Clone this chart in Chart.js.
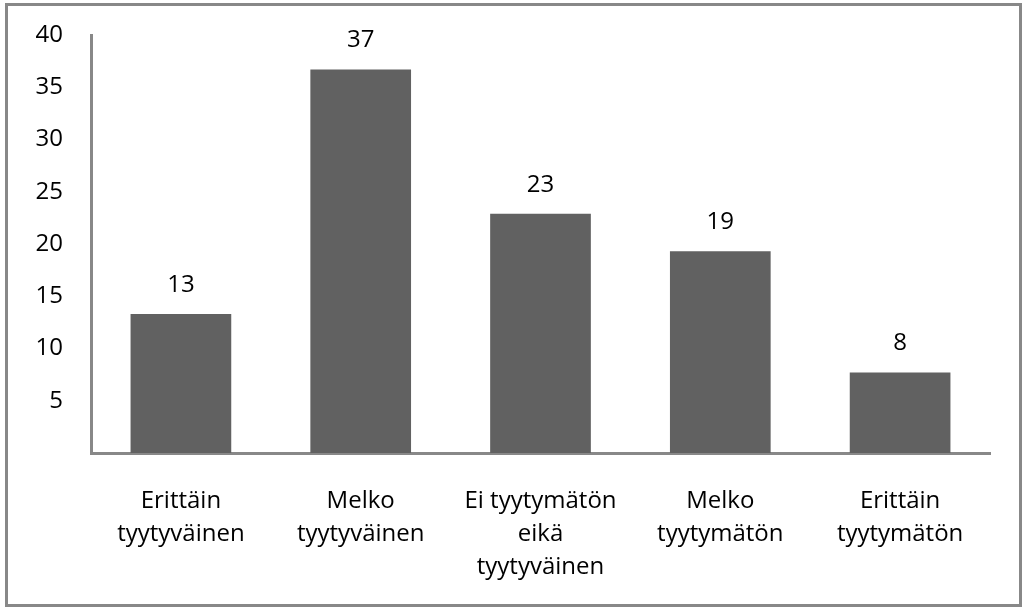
<!DOCTYPE html>
<html>
<head>
<meta charset="utf-8">
<script src="https://cdn.jsdelivr.net/npm/chart.js@4"></script>
<style>
  html, body { margin:0; padding:0; background:#fff; }
  #wrap { position:relative; width:1026px; height:612px; }
  #frame { position:absolute; left:5px; top:3px; width:1017px; height:604px; border:3px solid #888; box-sizing:border-box; }
  canvas { position:absolute; left:0; top:0; }
</style>
</head>
<body>
<div id="wrap">
  <div id="frame"></div>
  <canvas id="chart" width="1026" height="612"></canvas>
</div>
<script>
// categories (multi-line as shown under the axis)
const categories = [
    ["Erittäin", "tyytyväinen"],
    ["Melko", "tyytyväinen"],
    ["Ei tyytymätön", "eikä", "tyytyväinen"],
    ["Melko", "tyytymätön"],
    ["Erittäin", "tyytymätön"]
];
// values, labels shown rounded
const values = [13.3, 36.7, 22.9, 19.3, 7.7];
const yTicks = [5, 10, 15, 20, 25, 30, 35, 40];

const FONT = "'Open Sans', 'Noto Sans', sans-serif";
const FSIZE = 24;

// value labels above bars
const barLabels = {
    id: "barLabels",
    afterDatasetsDraw(chart){
        const ctx = chart.ctx;
        const meta = chart.getDatasetMeta(0);
        ctx.save();
        ctx.font = FSIZE + "px " + FONT;
        ctx.fillStyle = "#000";
        ctx.textAlign = "center";
        ctx.textBaseline = "middle";
        meta.data.forEach((bar, i)=>{
            ctx.fillText(String(Math.round(values[i])), bar.x, bar.y - 29);
        });
        ctx.restore();
    }
};

new Chart(document.getElementById("chart").getContext("2d"), {
    type: "bar",
    data: {
        labels: categories,
        datasets: [{
            data: values,
            backgroundColor: "#616161",
            borderWidth: 0,
            barPercentage: 0.56,
            categoryPercentage: 1
        }]
    },
    options: {
        responsive: false,
        animation: false,
        layout: { padding: { left: 0, right: 36, top: 35, bottom: 0 } },
        plugins: { legend: { display: false }, tooltip: { enabled: false } },
        scales: {
            x: {
                grid: { display: false, drawTicks: false },
                border: { display: true, color: "#888", width: 3 },
                ticks: { color: "#000", font: { family: FONT, size: FSIZE, lineHeight: 33 / FSIZE }, padding: 32, maxRotation: 0, autoSkip: false },
                afterFit(scale){ scale.height = 612 - 453; }
            },
            y: {
                min: 0, max: 40,
                grid: { display: false, drawTicks: false },
                border: { display: true, color: "#888", width: 3 },
                afterBuildTicks(scale){ scale.ticks = yTicks.map(v=>({ value: v })); },
                ticks: { color: "#000", font: { family: FONT, size: FSIZE }, padding: 28 },
                afterFit(scale){
                    scale.width = 91;
                    // tick padding would otherwise push the plot top down
                    scale.paddingTop = 0;
                    scale.paddingBottom = 0;
                }
            }
        }
    },
    plugins: [barLabels]
});
</script>
</body>
</html>
